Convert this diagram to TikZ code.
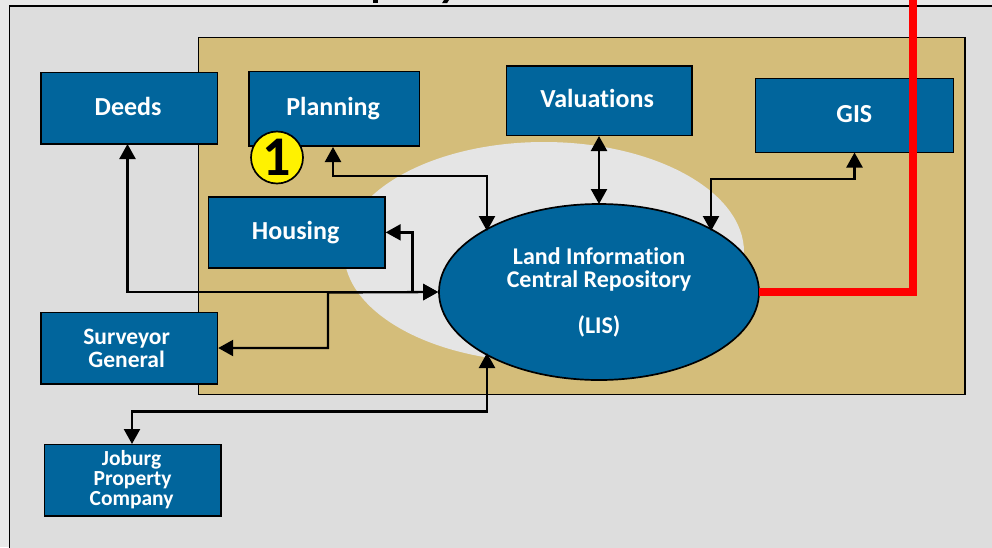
\documentclass[tikz,border=0pt]{standalone}
\usepackage{fontspec}
\setmainfont[Ligatures=NoCommon]{Carlito}
\usetikzlibrary{arrows.meta,shapes.geometric}
\definecolor{pagebg}{HTML}{E9E9E9}
\definecolor{framebg}{HTML}{DDDDDD}
\definecolor{tan}{HTML}{D4BD7A}
\definecolor{boxblue}{HTML}{01659C}
\definecolor{blob}{HTML}{E5E5E5}
\tikzset{
 bx/.style={draw=black,line width=1.7pt,fill=boxblue,text=white,align=center,inner sep=0pt,anchor=north west},
 big/.style={font=\bfseries\fontsize{26}{28}\selectfont},
 link/.style={draw=black,line width=2.3pt,{Triangle[length=15pt,width=16pt]}-{Triangle[length=15pt,width=16pt]}},
 linkb/.style={draw=black,line width=2.3pt,-{Triangle[length=15pt,width=16pt]}},
}
\begin{document}
\begin{tikzpicture}[x=1pt,y=-1pt]
\useasboundingbox (0,0) rectangle (992,547);
\fill[pagebg] (0,0) rectangle (992,547);
\draw[fill=framebg,line width=1.6pt] (9.5,6) rectangle (1000,560);
\begin{scope}
\clip (0,0) rectangle (992,547);
\fill[black] (372.5,0) rectangle (377.5,3.2);
\fill[black] (442,3.2) -- (447,3.2) -- (449,0) -- (444,0) -- cycle;
\end{scope}
\draw[fill=tan,line width=1.2pt] (198.5,37.5) rectangle (965,394.5);
\node[ellipse,fill=blob,minimum width=400pt,minimum height=220pt,inner sep=0pt] (blobshape) at (544,252) {};
\node[bx,big,minimum width=176.5pt,minimum height=71.5pt] (deeds) at (40,71.5) {\raisebox{3.5pt}{Deeds}\hspace*{2pt}};
\node[bx,big,minimum width=170.5pt,minimum height=74.5pt] (planning) at (248,70.5) {\raisebox{2pt}{Planning}\hspace*{2pt}};
\node[bx,big,minimum width=185.5pt,minimum height=69.5pt] (valuations) at (505.5,65) {\raisebox{4pt}{Valuations}\hspace*{4pt}};
\node[bx,big,minimum width=198pt,minimum height=74pt] (gis) at (754.5,77.5) {\raisebox{2pt}{GIS}};
\node[bx,big,minimum width=176.5pt,minimum height=71pt] (housing) at (207.5,196) {\raisebox{2pt}{Housing}\hspace*{2pt}};
\node[bx,minimum width=176.5pt,minimum height=71.5pt,font=\bfseries\fontsize{23.5}{23}\selectfont] (surveyor) at (40,311.5) {Surveyor\hspace*{5pt}\\General\hspace*{5pt}};
\node[bx,minimum width=176.5pt,minimum height=71.5pt,font=\bfseries\fontsize{21.5}{20}\selectfont] (joburg) at (43.5,443.5) {Joburg\hspace*{2pt}\\Property\hspace*{2pt}\\Company\hspace*{2pt}};
\node[ellipse,draw=black,line width=1.7pt,fill=boxblue,text=white,minimum width=320pt,minimum height=176pt,inner sep=0pt,align=center,font=\bfseries\fontsize{24}{23}\selectfont] (lis) at (599,292) {Land Information\\Central Repository\\[23pt](LIS)};
\node[circle,draw=black,line width=1.7pt,fill=yellow,minimum size=52pt,inner sep=0pt,font=\bfseries\fontsize{56}{56}\selectfont] (badge) at (277,157.5) {1};
% connectors
\coordinate (pl) at (333,147);
\coordinate (lisPl) at (487,231);
\coordinate (jct) at (412.5,292.5);
\draw[link] (pl) |- (487,176) -- (lisPl);
\draw[link] (599,136) -- (599,204);
\draw[link] (854.5,152.5) |- (711,179) -- (711,231);
\draw[link] (127.5,144) |- (lis.west);
\draw[linkb] (jct) |- (housing.east);
\draw[link] (surveyor.east |- 0,348) -| (328,292.5) -- (lis.west);
\draw[link] (132,444) |- (487,411.5) -- (487,353);
\coordinate (redstart) at (759,292);
\draw[red,line width=7.5pt] (redstart) -| (913,-5);
\end{tikzpicture}
\end{document}
